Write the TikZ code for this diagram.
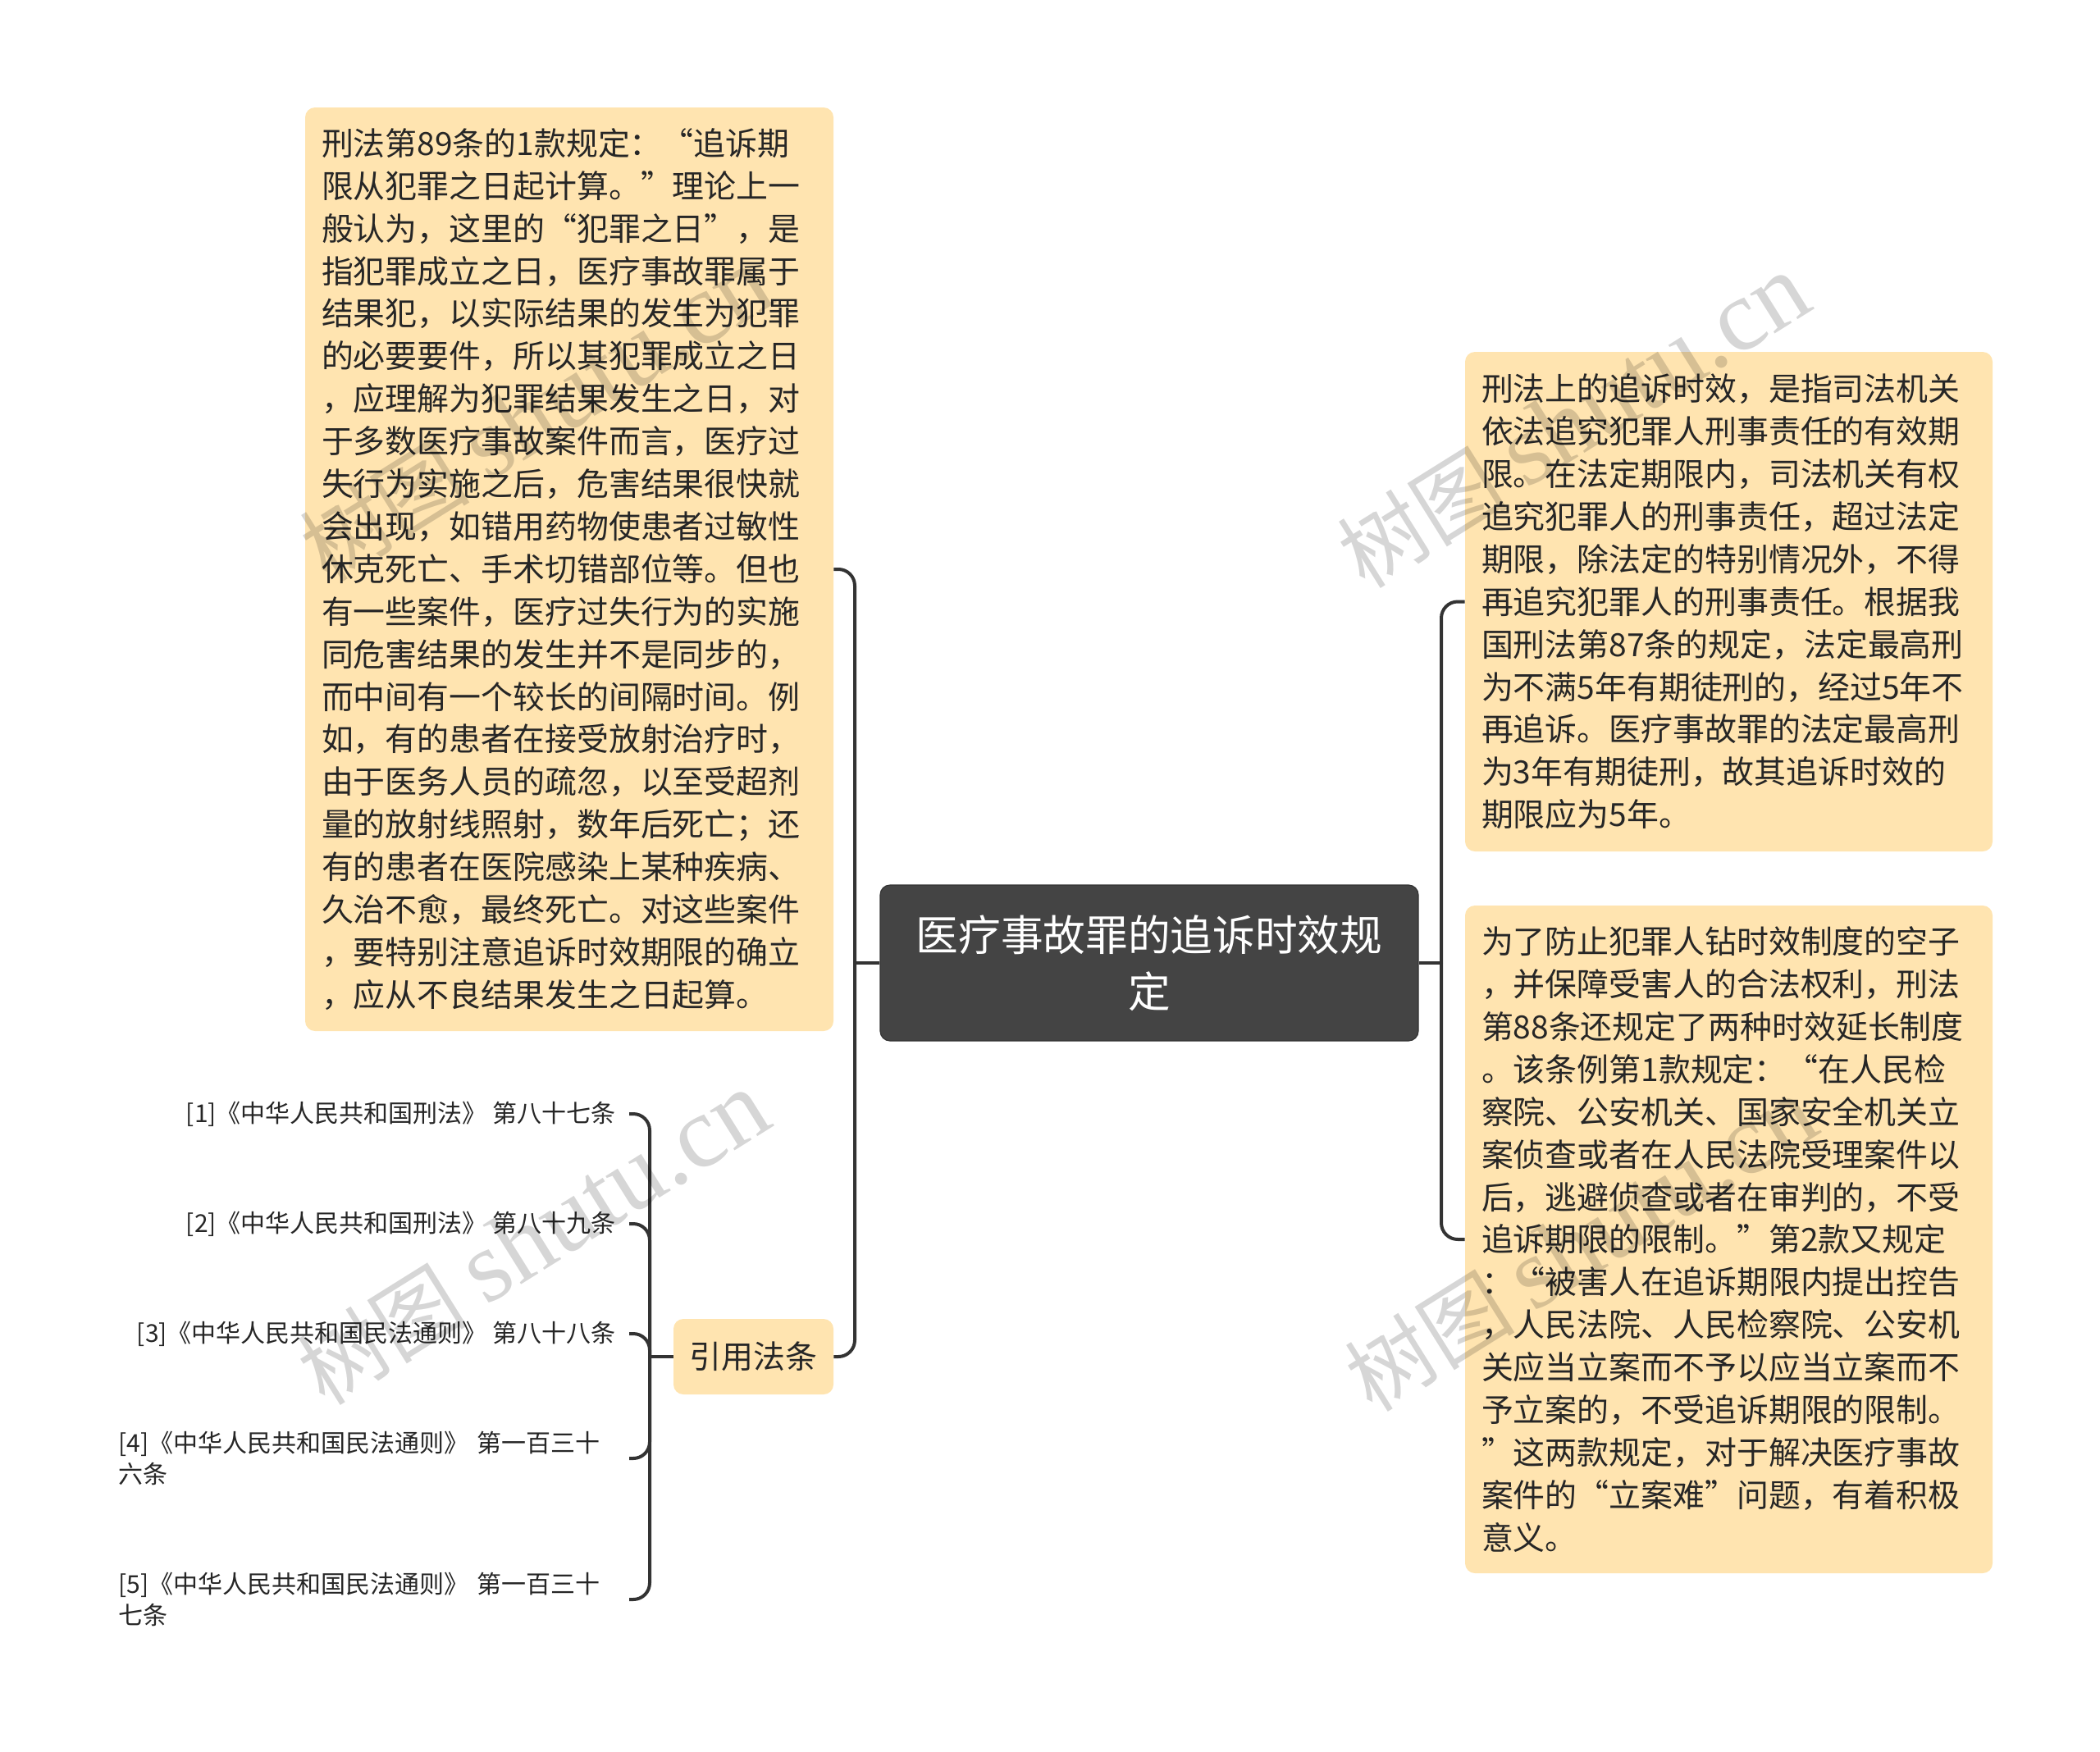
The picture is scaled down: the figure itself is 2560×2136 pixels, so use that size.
\documentclass[tikz,border=0pt]{standalone}
\usepackage{fontspec}
\setmainfont{Noto Sans CJK SC}
\newfontfamily\wmserif{Liberation Serif}
\definecolor{boxfill}{RGB}{255,228,176}
\definecolor{linec}{RGB}{51,51,51}
\definecolor{rootfill}{RGB}{68,68,68}
\definecolor{txt}{RGB}{38,38,38}
\begin{document}
\begin{tikzpicture}[x=0.5pt,y=-0.5pt,
  conn/.style={draw=linec, line width=2pt, rounded corners=10pt},
  topic/.style={fill=boxfill, rounded corners=6pt, text=txt,
    font=\fontsize{19.45pt}{25.95pt}\selectfont, align=left,
    inner xsep=10pt, inner ysep=0pt},
  rootbox/.style={fill=rootfill, draw=linec, line width=0.6pt, rounded corners=6pt, text=white,
    font=\fontsize{25.85pt}{34.3pt}\selectfont, align=center,
    minimum width=328pt, minimum height=95pt, inner sep=0pt},
  refitem/.style={text=txt, font=\fontsize{15pt}{19pt}\selectfont,
    inner xsep=8pt, inner ysep=2pt, anchor=east},
  wm/.style={text=black, opacity=0.16, rotate=32, inner sep=0pt},
]
\useasboundingbox (0,0) rectangle (2560,2136);

% root
\node[rootbox] (root) at (1401,1174) {医疗事故罪的追诉时效规\\定};

% left big box
\node[topic, text width=302pt, minimum height=563pt] (lbox) at (694,694) {%
刑法第89条的1款规定：“追诉期\\
限从犯罪之日起计算。”理论上一\\
般认为，这里的“犯罪之日”，是\\
指犯罪成立之日，医疗事故罪属于\\
结果犯，以实际结果的发生为犯罪\\
的必要要件，所以其犯罪成立之日\\
，应理解为犯罪结果发生之日，对\\
于多数医疗事故案件而言，医疗过\\
失行为实施之后，危害结果很快就\\
会出现，如错用药物使患者过敏性\\
休克死亡、手术切错部位等。但也\\
有一些案件，医疗过失行为的实施\\
同危害结果的发生并不是同步的，\\
而中间有一个较长的间隔时间。例\\
如，有的患者在接受放射治疗时，\\
由于医务人员的疏忽，以至受超剂\\
量的放射线照射，数年后死亡；还\\
有的患者在医院感染上某种疾病、\\
久治不愈，最终死亡。对这些案件\\
，要特别注意追诉时效期限的确立\\
，应从不良结果发生之日起算。};

% citation node
\node[topic, align=center, inner xsep=0pt, minimum width=97.5pt, minimum height=46pt] (yin) at (918.5,1654) {引用法条};

% right boxes
\node[topic, text width=301.5pt, minimum height=304.5pt] (rt) at (2107.5,733.5) {%
刑法上的追诉时效，是指司法机关\\
依法追究犯罪人刑事责任的有效期\\
限。在法定期限内，司法机关有权\\
追究犯罪人的刑事责任，超过法定\\
期限，除法定的特别情况外，不得\\
再追究犯罪人的刑事责任。根据我\\
国刑法第87条的规定，法定最高刑\\
为不满5年有期徒刑的，经过5年不\\
再追诉。医疗事故罪的法定最高刑\\
为3年有期徒刑，故其追诉时效的\\
期限应为5年。};

\node[topic, text width=301.5pt, minimum height=407pt] (rb) at (2107.5,1511) {%
为了防止犯罪人钻时效制度的空子\\
，并保障受害人的合法权利，刑法\\
第88条还规定了两种时效延长制度\\
。该条例第1款规定：“在人民检\\
察院、公安机关、国家安全机关立\\
案侦查或者在人民法院受理案件以\\
后，逃避侦查或者在审判的，不受\\
追诉期限的限制。”第2款又规定\\
：“被害人在追诉期限内提出控告\\
，人民法院、人民检察院、公安机\\
关应当立案而不予以应当立案而不\\
予立案的，不受追诉期限的限制。\\
”这两款规定，对于解决医疗事故\\
案件的“立案难”问题，有着积极\\
意义。};

% reference items
\node[refitem] (r1) at (767,1358) {[1]《中华人民共和国刑法》 第八十七条};
\node[refitem] (r2) at (767,1492) {[2]《中华人民共和国刑法》 第八十九条};
\node[refitem] (r3) at (767,1626) {[3]《中华人民共和国民法通则》 第八十八条};
\node[refitem, text width=303pt, align=left] (r4) at (767,1778) {[4]《中华人民共和国民法通则》~第一百三十\\六条};
\node[refitem, text width=303pt, align=left] (r5) at (767,1950) {[5]《中华人民共和国民法通则》~第一百三十\\七条};

% junction coordinates
\coordinate (lj) at (1042,1174);
\coordinate (rj) at (1757,1174);
\coordinate (cj) at (792,1654);

% connectors
\draw[conn] (root.west) -- (lj);
\draw[conn] (lj) |- (lbox.east);
\draw[conn] (lj) |- (yin.east);
\draw[conn] (root.east) -- (rj);
\draw[conn] (rj) |- (rt.west);
\draw[conn] (rj) |- (rb.west);
\draw[conn] (yin.west) -- (cj);
\foreach \r in {r1,r2,r3,r4,r5} {
  \draw[conn] (cj) |- (\r.east);
}

% watermarks
\node[wm] (wm1) at (653,506) {\fontsize{52pt}{52pt}\selectfont 树图\ {\wmserif\fontsize{62pt}{62pt}\selectfont shutu.cn}};
\node[wm] (wm2) at (1918,514) {\fontsize{52pt}{52pt}\selectfont 树图\ {\wmserif\fontsize{62pt}{62pt}\selectfont shutu.cn}};
\node[wm] (wm3) at (650,1510) {\fontsize{52pt}{52pt}\selectfont 树图\ {\wmserif\fontsize{62pt}{62pt}\selectfont shutu.cn}};
\node[wm] (wm4) at (1927,1518) {\fontsize{52pt}{52pt}\selectfont 树图\ {\wmserif\fontsize{62pt}{62pt}\selectfont shutu.cn}};
\end{tikzpicture}
\end{document}
